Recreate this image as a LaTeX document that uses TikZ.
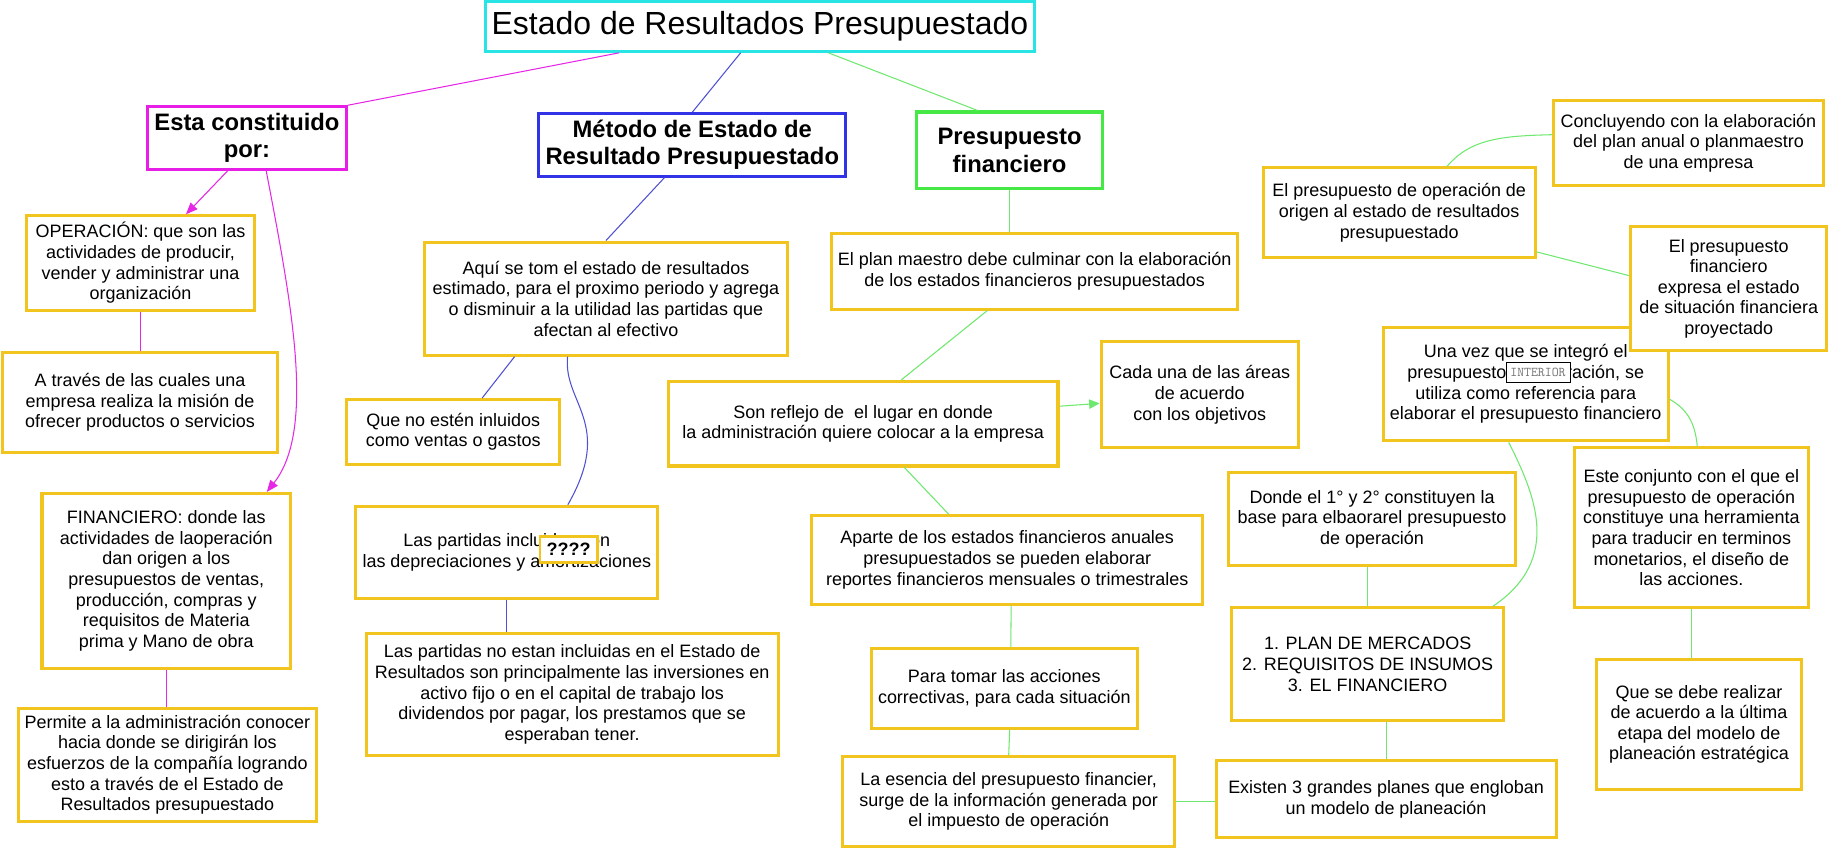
\documentclass[tikz,border=0pt]{standalone}
\usepackage{fontspec}
\setmainfont{Liberation Sans}
\usetikzlibrary{calc,arrows.meta}
\definecolor{boxy}{RGB}{242,197,30}
\definecolor{cyanb}{RGB}{40,228,228}
\definecolor{magb}{RGB}{230,30,230}
\definecolor{blueb}{RGB}{50,50,230}
\definecolor{greenb}{RGB}{70,232,70}
\definecolor{magl}{RGB}{230,40,230}
\definecolor{bluel}{RGB}{80,80,210}
\definecolor{greenl}{RGB}{110,232,110}
\newcommand\bodyf{\fontsize{15.4}{17.7}\selectfont}
\newcommand\headf{\fontsize{20.4}{23.5}\selectfont\bfseries}
\newcommand\titlef{\fontsize{27.4}{32}\selectfont}
\begin{document}
\begin{tikzpicture}[x=1pt,y=-1pt,
  box/.style={draw=boxy,line width=2.6pt,fill=white,inner sep=0pt,align=center,font=\bodyf},
  hbox/.style={line width=2.6pt,fill=white,inner sep=0pt,align=center,font=\headf},
  tbox/.style={draw=cyanb,line width=2.6pt,fill=white,inner sep=0pt,font=\titlef},
  mline/.style={draw=magl,line width=0.9pt},
  bline/.style={draw=bluel,line width=0.9pt},
  gline/.style={draw=greenl,line width=0.9pt},
  tip/.style={-{Triangle[length=10pt,width=8pt]}}
]
\useasboundingbox[fill=white] (0,0) rectangle (1568,729);

% main nodes
\node[tbox,minimum width=471pt,minimum height=43pt] (TITLE) at (651.5,22.5) {Estado de Resultados Presupuestado};
\node[hbox,draw=magb,minimum width=170.5pt,minimum height=53.5pt] (ESTA) at (211.75,118.25) {Esta constituido\\por:};
\node[hbox,draw=blueb,minimum width=263pt,minimum height=53.5pt] (METODO) at (593.5,124.25) {Método de Estado de\\Resultado Presupuestado};
\node[hbox,draw=greenb,minimum width=159pt,minimum height=66pt] (PF) at (865.5,129) {Presupuesto\\financiero};

% left column
\node[box,minimum width=195pt,minimum height=81pt] (OPER) at (120.5,225.5) {OPERACIÓN: que son las\\actividades de producir,\\vender y administrar una\\organización};
\node[box,minimum width=236pt,minimum height=86pt] (ATRAV) at (120,345) {A través de las cuales una\\empresa realiza la misión de\\ofrecer productos o servicios};
\node[box,minimum width=213pt,minimum height=150pt] (FIN) at (142.5,498) {FINANCIERO: donde las\\actividades de laoperación\\dan origen a los\\presupuestos de ventas,\\producción, compras y\\requisitos de Materia\\prima y Mano de obra};
\node[box,minimum width=255pt,minimum height=97pt] (PERM) at (143.5,655.5) {Permite a la administración conocer\\hacia donde se dirigirán los\\esfuerzos de la compañía logrando\\esto a través de el Estado de\\Resultados presupuestado};

% middle column
\node[box,minimum width=311pt,minimum height=97pt] (AQUI) at (519.5,256) {Aquí se tom el estado de resultados\\estimado, para el proximo periodo y agrega\\o disminuir a la utilidad las partidas que\\afectan al efectivo};
\node[box,minimum width=183pt,minimum height=55.5pt] (QNE) at (388.5,370.25) {Que no estén inluidos\\como ventas o gastos};
\node[box,minimum width=259pt,minimum height=79pt] (LPI) at (434.5,473.5) {Las partidas incluidas son\\las depreciaciones y amortizaciones};
\node[box,font=\bodyf\bfseries,line width=2.4pt,minimum width=49pt,minimum height=22pt] (Q4) at (487.5,471) {????};
\node[box,minimum width=353pt,minimum height=105pt] (LPN) at (490.5,595.5) {Las partidas no estan incluidas en el Estado de\\Resultados son principalmente las inversiones en\\activo fijo o en el capital de trabajo los\\dividendos por pagar, los prestamos que se\\esperaban tener.};

% green column
\node[box,minimum width=348pt,minimum height=65pt] (PLAN) at (887,232.5) {El plan maestro debe culminar con la elaboración\\de los estados financieros presupuestados};
\node[box,minimum width=334pt,minimum height=72.5pt] (SON) at (740,363.25) {Son reflejo de\ \ el lugar en donde\\la administración quiere colocar a la empresa};
\node[box,minimum width=169pt,minimum height=91pt] (CADA) at (1028.5,338.5) {Cada una de las áreas\\de acuerdo\\con los objetivos};
\node[box,minimum width=335pt,minimum height=76pt] (APARTE) at (863.5,480) {Aparte de los estados financieros anuales\\presupuestados se pueden elaborar\\reportes financieros mensuales o trimestrales};
\node[box,minimum width=228pt,minimum height=68.5pt] (PARA) at (861,590.25) {Para tomar las acciones\\correctivas, para cada situación};
\node[box,minimum width=284.5pt,minimum height=77.5pt] (ESENCIA) at (864.75,687.25) {La esencia del presupuesto financier,\\surge de la información generada por\\el impuesto de operación};
\node[box,minimum width=291.5pt,minimum height=66pt] (EXISTEN) at (1188.25,685) {Existen 3 grandes planes que engloban\\un modelo de planeación};
\node[box,minimum width=233pt,minimum height=97pt] (PLAN3) at (1172.5,569.5) {1. PLAN DE MERCADOS\\2. REQUISITOS DE INSUMOS\\3. EL FINANCIERO};
\node[box,minimum width=245.5pt,minimum height=80pt] (DONDE) at (1176.25,445) {Donde el 1° y 2° constituyen la\\base para elbaorarel presupuesto\\de operación};
\node[box,minimum width=244pt,minimum height=97.5pt] (UNAVEZ) at (1308,329.25) {Una vez que se integró el\\presupuesto de operación, se\\utiliza como referencia para\\elaborar el presupuesto financiero};
\node[draw=black,line width=0.6pt,fill=white,inner sep=0pt,minimum width=55pt,minimum height=17pt,text=black!55,font=\fontsize{11.5}{12}\selectfont\ttfamily] (INTER) at (1318.5,319.5) {INTERIOR};
\node[box,minimum width=168pt,minimum height=106pt] (EPF) at (1482,247.5) {El presupuesto\\financiero\\expresa el estado\\de situación financiera\\proyectado};
\node[box,minimum width=233pt,minimum height=77pt] (EPO) at (1199.5,182.5) {El presupuesto de operación de\\origen al estado de resultados\\presupuestado};
\node[box,minimum width=231pt,minimum height=73pt] (CONC) at (1447.5,122.5) {Concluyendo con la elaboración\\del plan anual o planmaestro\\de una empresa};
\node[box,minimum width=200pt,minimum height=137pt] (ESTE) at (1450,452.5) {Este conjunto con el que el\\presupuesto de operación\\constituye una herramienta\\para traducir en terminos\\monetarios, el diseño de\\las acciones.};
\node[box,minimum width=175pt,minimum height=112pt] (QUE) at (1456.5,621) {Que se debe realizar\\de acuerdo a la última\\etapa del modelo de\\planeación estratégica};

% connectors from the title
\draw[mline] ($(TITLE.south west)!0.245!(TITLE.south east)$) -- (ESTA.north east);
\draw[bline] ($(TITLE.south west)!0.465!(TITLE.south east)$) -- (METODO.north);
\draw[gline] ($(TITLE.south west)!0.624!(TITLE.south east)$) -- ($(PF.north west)!0.33!(PF.north east)$);

% left (magenta)
\draw[mline,tip,fill=magl] ($(ESTA.south west)!0.405!(ESTA.south east)$) -- ($(OPER.north west)!0.697!(OPER.north east)$);
\coordinate (e1) at ($(ESTA.south west)!0.595!(ESTA.south east)$);
\coordinate (f1) at ($(FIN.north west)!0.9!(FIN.north east)$);
\draw[mline,tip] (e1) .. controls ($(e1)+(22,115)$) and ($(f1)+(42,-53)$) .. (f1);
\draw[mline] (OPER.south) -- (OPER.south |- ATRAV.north);
\draw[mline] (FIN.south) -- (FIN.south |- PERM.north);

% middle (blue)
\draw[bline] ($(METODO.south west)!0.41!(METODO.south east)$) -- (AQUI.north);
\draw[bline] ($(AQUI.south west)!0.25!(AQUI.south east)$) -- ($(QNE.north west)!0.634!(QNE.north east)$);
\coordinate (a1) at ($(AQUI.south west)!0.395!(AQUI.south east)$);
\coordinate (l1) at ($(LPI.north west)!0.70!(LPI.north east)$);
\draw[bline] (a1) .. controls ($(a1)+(-4,40)$) and ($(l1)+(40,-70)$) .. (l1);
\draw[bline] (LPI.south) -- (LPI.south |- LPN.north);

% right (green)
\draw[gline] (PF.south) -- (PF.south |- PLAN.north);
\draw[gline] ($(PLAN.south west)!0.384!(PLAN.south east)$) -- ($(SON.north west)!0.597!(SON.north east)$);
\draw[gline,-{Triangle[length=9pt,width=8pt]}] ($(SON.north east)!0.30!(SON.south east)$) -- ($(CADA.north west)!0.578!(CADA.south west)$);
\draw[gline] ($(SON.south west)!0.605!(SON.south east)$) -- ($(APARTE.north west)!0.351!(APARTE.north east)$);
\draw[gline] ($(APARTE.south west)!0.51!(APARTE.south east)$) -- ($(PARA.north west)!0.524!(PARA.north east)$);
\draw[gline] ($(PARA.south west)!0.52!(PARA.south east)$) -- ($(ESENCIA.north west)!0.5!(ESENCIA.north east)$);
\draw[gline] (ESENCIA.east) -- (ESENCIA.east -| EXISTEN.west);
\draw[gline] (EXISTEN.north) -- (EXISTEN.north |- PLAN3.south);
\draw[gline] (PLAN3.north) -- (PLAN3.north |- DONDE.south);
\coordinate (p1) at ($(PLAN3.north west)!0.956!(PLAN3.north east)$);
\coordinate (u2) at ($(UNAVEZ.south west)!0.441!(UNAVEZ.south east)$);
\draw[gline] (u2) .. controls ($(u2)+(21,42)$) and ($(p1)+(61,-41)$) .. (p1);
\coordinate (u1) at ($(UNAVEZ.north east)!0.63!(UNAVEZ.south east)$);
\coordinate (s1) at ($(ESTE.north west)!0.525!(ESTE.north east)$);
\draw[gline] (u1) .. controls ($(u1)+(14,8)$) and ($(s1)+(-2,-22)$) .. (s1);
\draw[gline] (ESTE.south) -- (ESTE.south |- QUE.north);
\draw[gline] ($(EPO.north east)!0.92!(EPO.south east)$) -- ($(EPF.north west)!0.397!(EPF.south west)$);
\coordinate (o1) at ($(EPO.north west)!0.674!(EPO.north east)$);
\coordinate (c1) at ($(CONC.north west)!0.407!(CONC.south west)$);
\draw[gline] (o1) .. controls ($(o1)+(20,-24)$) and ($(c1)+(-42,1)$) .. (c1);
\end{tikzpicture}
\end{document}
